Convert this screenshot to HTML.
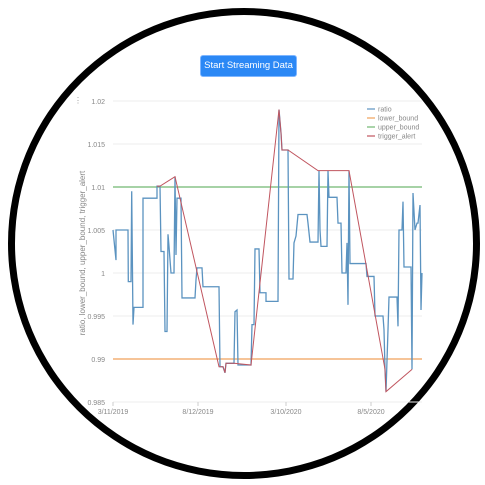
<!DOCTYPE html>
<html><head><meta charset="utf-8"><style>
html,body{margin:0;padding:0;background:#fff;width:485px;height:485px;overflow:hidden;font-family:"Liberation Sans",sans-serif}
#ring{position:absolute;left:8px;top:8px;width:458px;height:457px;border:7px solid #000;border-radius:50%;background:#fff}
#btn{position:absolute;left:200px;top:55px;width:97px;height:22px;background:#2b88f5;border:1px solid #7fb6ff;border-radius:3px;color:#fff;font-size:9.5px;line-height:20px;text-align:center;box-sizing:border-box;white-space:nowrap;overflow:hidden}
svg{position:absolute;left:0;top:0}
</style></head><body>
<div id="ring"></div>
<div id="btn">Start Streaming Data</div>
<svg id="chart" width="485" height="485"></svg>
<script>
const ratioT=[0,3,3,5,15,15.3,18,18.7,20,21,30,30,44,44,47,48,51,52,54,55,56,58,61,62,63,64,68,69,82,83,84,89,90,106,107,110,112,113,121,122,124,125,138,139,141,142,146,147,153,153,165,166,168,169,175,176,180,181,183,185,194,195,197,205,206,207,208,214,215,216,224,225,228,229,233,234,235,236,237,253,254,261,262,270,271,272,273,275,276,284,285,286,289,290,291,298,299,300,302,304,305,307,308,309];
const ratioV=[1.005,1.0015,1.005,1.005,1.005,0.999,0.999,1.0095,0.994,0.996,0.996,1.0087,1.0087,1.0101,1.0101,1.0025,1.0025,0.9932,0.9932,1.0045,1.0031,1.0,1.0,1.0112,1.0021,1.0087,1.0087,0.9971,0.9971,0.9992,1.0006,1.0006,0.9984,0.9984,0.9891,0.9891,0.9884,0.9895,0.9895,0.9955,0.9957,0.9893,0.9893,0.994,0.994,1.0028,1.0028,0.9977,0.9977,0.9967,0.9967,1.019,1.0163,1.0143,1.0143,0.9993,0.9993,1.0035,1.0043,1.0068,1.0068,1.0058,1.0036,1.0036,1.0119,1.005,1.0031,1.0031,1.0119,1.0088,1.0088,1.0058,1.0058,1.0,1.0,1.0035,0.9963,1.0119,1.0011,1.0011,0.9996,0.9996,0.995,0.995,0.9934,0.9888,0.9862,0.9934,0.9972,0.9972,0.9938,1.005,1.005,1.0083,1.0007,1.0007,0.9888,1.0093,1.005,1.0058,1.0058,1.0079,0.9957,1.0];
const alertT=[44,47,62,106,110,112,113,121,138,166,168,169,175,205,236,272,273,299];
const alertV=[1.0101,1.0101,1.0112,0.9891,0.9891,0.9884,0.9895,0.9895,0.9893,1.019,1.0163,1.0143,1.0143,1.0119,1.0119,0.9888,0.9862,0.9888];
const lowerBound=0.99, upperBound=1.01;
const yTicks=[1.02,1.015,1.01,1.005,1,0.995,0.99,0.985];
const yTickLabels=["1.02","1.015","1.01","1.005","1","0.995","0.99","0.985"];
const xTickT=[0,85,173,258];
const xTickLabels=["3/11/2019","8/12/2019","3/10/2020","8/5/2020"];
const legendNames=["ratio","lower_bound","upper_bound","trigger_alert"];
const colors=["#5b93c0","#f0a15a","#72b772","#c0555f"];

const X0=113,X1=422,T0=0,T1=309;
const x=t=>X0+(t-T0)/(T1-T0)*(X1-X0);
const y=v=>273-(v-1)*8600;
const svg=document.getElementById('chart');
const NS="http://www.w3.org/2000/svg";
function mk(tag,attrs,parent){const e=document.createElementNS(NS,tag);for(const k in attrs)e.setAttribute(k,attrs[k]);(parent||svg).appendChild(e);return e;}

yTicks.forEach((v,i)=>{
  const g=mk('line',{x1:X0,x2:X1,y1:y(v),y2:y(v),stroke:'#eeeeee','stroke-width':1});
  
  
  const t=mk('text',{x:X0-8,y:y(v)+3,'text-anchor':'end','font-size':7,fill:'#888'});
  t.textContent=yTickLabels[i];
  
  
});
xTickT.forEach((tv,i)=>{
  const tk=mk('line',{x1:x(tv),x2:x(tv),y1:402,y2:406,stroke:'#ccc'});
  
  
  const t=mk('text',{x:x(tv),y:414,'text-anchor':'middle','font-size':7,fill:'#888'});
  t.textContent=xTickLabels[i];
  
  
});
const yt=mk('text',{x:0,y:0,transform:'translate(85,253) rotate(-90)','text-anchor':'middle','font-size':8,fill:'#888'});
yt.textContent="ratio, lower_bound, upper_bound, trigger_alert";


const dots=mk('text',{x:74,y:103,'font-size':8,fill:'#999'});
dots.textContent="⋮";



const lb=mk('line',{x1:X0,x2:X1,y1:y(lowerBound),y2:y(lowerBound),stroke:colors[1],'stroke-width':1.2});


const ub=mk('line',{x1:X0,x2:X1,y1:y(upperBound),y2:y(upperBound),stroke:colors[2],'stroke-width':1.2});



const rp=mk('polyline',{points:ratioT.map((t,i)=>x(t)+','+y(ratioV[i])).join(' '),fill:'none',stroke:colors[0],'stroke-width':1.3});


const ap=mk('polyline',{points:alertT.map((t,i)=>x(t)+','+y(alertV[i])).join(' '),fill:'none',stroke:colors[3],'stroke-width':1});



legendNames.forEach((n,i)=>{
  const ly=109+i*9;
  const l=mk('line',{x1:367,x2:375,y1:ly,y2:ly,stroke:colors[i],'stroke-width':1.2});
  
  
  const t=mk('text',{x:378,y:ly+2.5,'font-size':7,fill:'#888'});
  t.textContent=n;
  
  
});
</script>
</body></html>
